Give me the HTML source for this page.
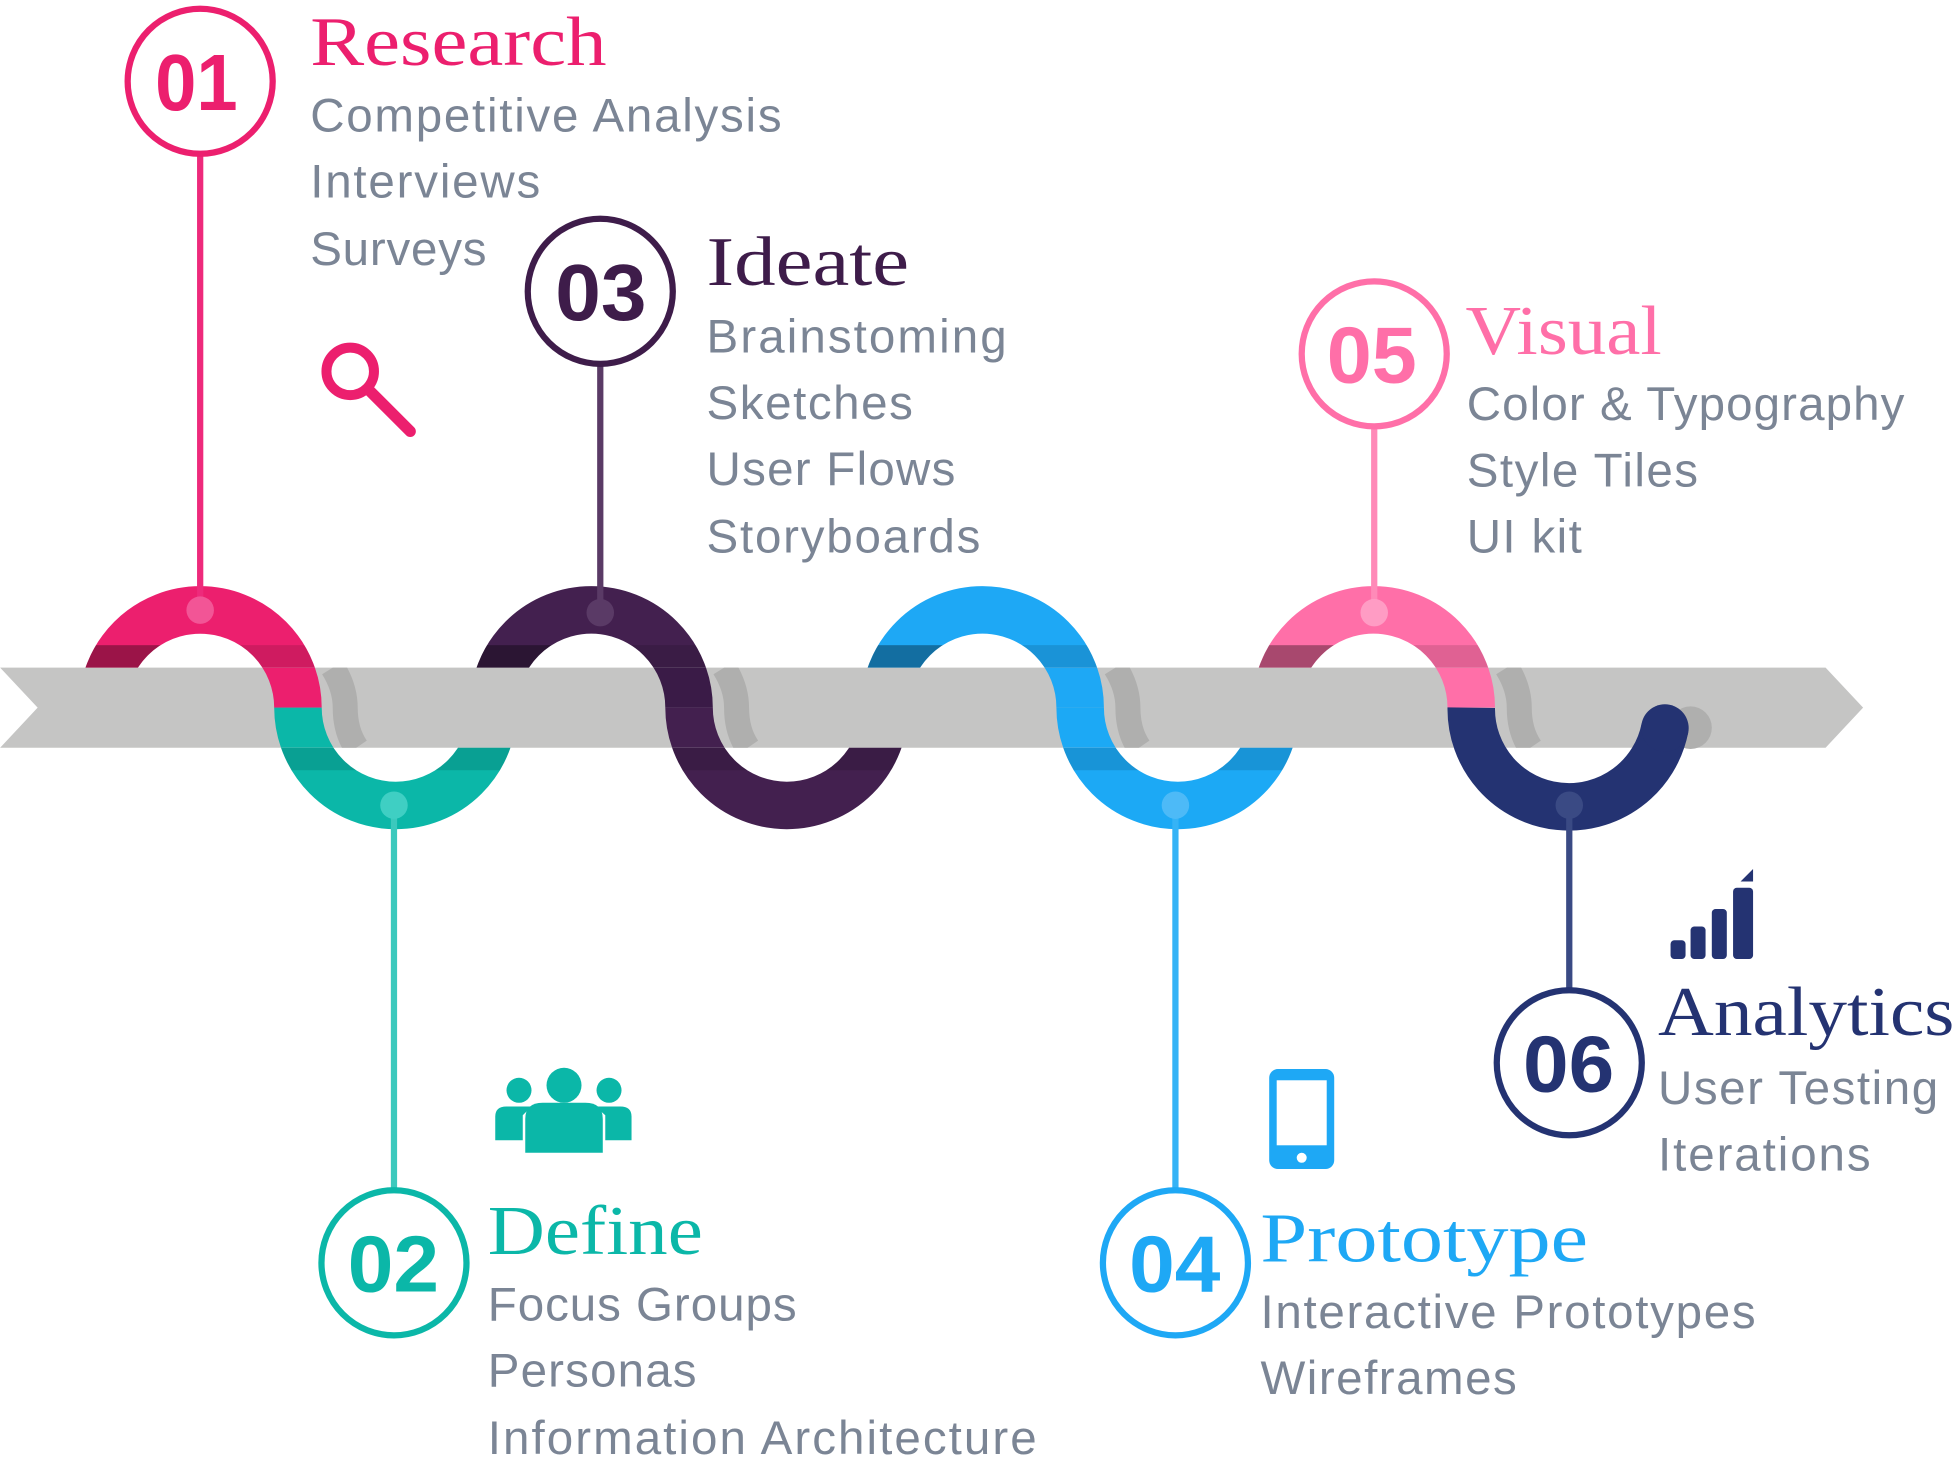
<!DOCTYPE html>
<html><head><meta charset="utf-8"><style>
html,body{margin:0;padding:0;background:#fff;}
svg{display:block}
.t{font-family:"Liberation Serif",serif;font-size:56px}
.i{font-family:"Liberation Sans",sans-serif;font-size:38px;fill:#7b8595}
.n{font-family:"Liberation Sans",sans-serif;font-weight:bold;font-size:64px}
</style></head><body>
<svg width="1957" height="1476" viewBox="0 0 1565 1180.5" xmlns="http://www.w3.org/2000/svg">
<defs>
<clipPath id="cross">
<rect x="200" y="534" width="72" height="64"/><rect x="513" y="534" width="72" height="64"/>
<rect x="826" y="534" width="72" height="64"/><rect x="1139" y="534" width="72" height="64"/>
</clipPath>
<clipPath id="band"><rect x="0" y="534" width="1500" height="64"/></clipPath>
<clipPath id="stripT"><rect x="0" y="516" width="1500" height="18"/></clipPath>
<clipPath id="stripTL">
<rect x="55" y="516" width="105" height="18"/><rect x="368" y="516" width="105" height="18"/>
<rect x="681" y="516" width="105" height="18"/><rect x="994" y="516" width="105" height="18"/>
</clipPath>
<clipPath id="stripB"><rect x="0" y="598" width="1500" height="18"/></clipPath>
</defs>
<g fill="none" stroke-width="38">
<path d="M81.8,566 A78.2,78.2 0 0 1 238.2,566" stroke="#ec1f6e"/>
<path d="M238.2,566 A78.2,78.2 0 0 0 394.6,566" stroke="#0bb7a8"/>
<path d="M394.6,566 A78.2,78.2 0 0 1 551,566" stroke="#43204f"/>
<path d="M551,566 A78.2,78.2 0 0 0 707.4,566" stroke="#43204f"/>
<path d="M707.4,566 A78.2,78.2 0 0 1 863.8,566" stroke="#1ea8f5"/>
<path d="M863.8,566 A78.2,78.2 0 0 0 1020.2,566" stroke="#1ca9f5"/>
<path d="M1020.2,566 A78.2,78.2 0 0 1 1176.6,566" stroke="#ff6fa8"/>
</g>
<g clip-path="url(#stripT)" fill="none" stroke-width="38" stroke="#000" opacity="0.12">
<path d="M81.8,566 A78.2,78.2 0 0 1 238.2,566 M394.6,566 A78.2,78.2 0 0 1 551,566 M707.4,566 A78.2,78.2 0 0 1 863.8,566 M1020.2,566 A78.2,78.2 0 0 1 1176.6,566"/>
</g>
<g clip-path="url(#stripTL)" fill="none" stroke-width="38" stroke="#000" opacity="0.25">
<path d="M81.8,566 A78.2,78.2 0 0 1 238.2,566 M394.6,566 A78.2,78.2 0 0 1 551,566 M707.4,566 A78.2,78.2 0 0 1 863.8,566 M1020.2,566 A78.2,78.2 0 0 1 1176.6,566"/>
</g>
<g clip-path="url(#stripB)" fill="none" stroke-width="38" stroke="#000" opacity="0.12">
<path d="M238.2,566 A78.2,78.2 0 0 0 394.6,566 M551,566 A78.2,78.2 0 0 0 707.4,566 M863.8,566 A78.2,78.2 0 0 0 1020.2,566"/>
</g>
<!-- band -->
<polygon points="0,534 1460,534 1490,566 1460,598 0,598 30,566" fill="#c5c5c4"/>
<!-- shadows -->
<g clip-path="url(#band)" fill="none" stroke-width="20" stroke="#afafae">
<path d="M266,534 Q276,550 276,566 Q276,585 285,598"/>
<path d="M579,534 Q589,550 589,566 Q589,585 598,598"/>
<path d="M892,534 Q902,550 902,566 Q902,585 911,598"/>
<path d="M1205,534 Q1215,550 1215,566 Q1215,585 1224,598"/>
</g>
<circle cx="1352" cy="582" r="17" fill="#afafae"/>
<!-- crossings over band -->
<g clip-path="url(#cross)" fill="none" stroke-width="38">
<path d="M81.8,566 A78.2,78.2 0 0 1 238.2,566" stroke="#ec1f6e"/>
<path d="M238.2,566 A78.2,78.2 0 0 0 394.6,566" stroke="#0bb7a8"/>
<path d="M394.6,566 A78.2,78.2 0 0 1 551,566" stroke="#3a1b47"/>
<path d="M551,566 A78.2,78.2 0 0 0 707.4,566" stroke="#43204f"/>
<path d="M707.4,566 A78.2,78.2 0 0 1 863.8,566" stroke="#1ea8f5"/>
<path d="M863.8,566 A78.2,78.2 0 0 0 1020.2,566" stroke="#1ca9f5"/>
<path d="M1020.2,566 A78.2,78.2 0 0 1 1176.6,566" stroke="#ff6fa8"/>
</g>
<path d="M1176.6,566 A78.2,78.2 0 0 0 1331.5,582.3" fill="none" stroke-width="38" stroke="#243372"/>
<circle cx="1331.5" cy="582.3" r="19" fill="#243372"/>
<!-- lines -->
<g stroke-width="5">
<line x1="160" y1="122" x2="160" y2="488" stroke="#ee2a7b"/>
<line x1="480" y1="291" x2="480" y2="490" stroke="#5a3a66"/>
<line x1="1099" y1="341" x2="1099" y2="490" stroke="#ff8ab8"/>
<line x1="315" y1="644" x2="315" y2="952" stroke="#3cc9bd"/>
<line x1="940" y1="644" x2="940" y2="952" stroke="#35b3f6"/>
<line x1="1255" y1="644" x2="1255" y2="792" stroke="#3a4a84"/>
</g>
<g>
<circle cx="160" cy="488" r="11" fill="#f25596"/>
<circle cx="480" cy="490" r="11" fill="#5a3a66"/>
<circle cx="1099" cy="490" r="11" fill="#ff9cc4"/>
<circle cx="315" cy="644" r="11" fill="#3fcfc3"/>
<circle cx="940" cy="644" r="11" fill="#4dbaf7"/>
<circle cx="1255" cy="644" r="11" fill="#3a4a84"/>
</g>
<!-- number circles -->
<g fill="#fff" stroke-width="5">
<circle cx="160" cy="65" r="58" stroke="#ec1f6e"/>
<circle cx="480" cy="233" r="58" stroke="#3e1c4a"/>
<circle cx="1099" cy="283" r="58" stroke="#ff6fa8"/>
<circle cx="315" cy="1010" r="58" stroke="#0bb7a8"/>
<circle cx="940" cy="1010" r="58" stroke="#1ea8f5"/>
<circle cx="1255" cy="850" r="58" stroke="#243372"/>
</g>
<text class="n" x="124" y="88" fill="#ec1f6e" textLength="66" lengthAdjust="spacingAndGlyphs">01</text>
<text class="n" x="444" y="256" fill="#3e1c4a" textLength="73" lengthAdjust="spacingAndGlyphs">03</text>
<text class="n" x="1061" y="306" fill="#ff6fa8" textLength="72" lengthAdjust="spacingAndGlyphs">05</text>
<text class="n" x="278" y="1033" fill="#0bb7a8" textLength="73" lengthAdjust="spacingAndGlyphs">02</text>
<text class="n" x="903" y="1033" fill="#1ea8f5" textLength="73" lengthAdjust="spacingAndGlyphs">04</text>
<text class="n" x="1218" y="873" fill="#243372" textLength="73" lengthAdjust="spacingAndGlyphs">06</text>
<!-- text -->
<g>
<text class="t" x="248" y="52" fill="#ec1f6e" textLength="237" lengthAdjust="spacingAndGlyphs">Research</text>
<text class="i" x="248" y="105" textLength="377">Competitive Analysis</text>
<text class="i" x="248" y="158" textLength="184">Interviews</text>
<text class="i" x="248" y="212" textLength="141">Surveys</text>
<text class="t" x="565" y="228" fill="#3e1c4a" textLength="162" lengthAdjust="spacingAndGlyphs">Ideate</text>
<text class="i" x="565" y="282" textLength="240">Brainstoming</text>
<text class="i" x="565" y="335" textLength="165">Sketches</text>
<text class="i" x="565" y="388" textLength="199">User Flows</text>
<text class="i" x="565" y="442" textLength="219">Storyboards</text>
<text class="t" x="1172" y="283" fill="#ff6fa8" textLength="157" lengthAdjust="spacingAndGlyphs">Visual</text>
<text class="i" x="1173" y="336" textLength="350">Color &amp; Typography</text>
<text class="i" x="1173" y="389" textLength="185">Style Tiles</text>
<text class="i" x="1173" y="442" textLength="92">UI kit</text>
<text class="t" x="390" y="1003" fill="#0bb7a8" textLength="172" lengthAdjust="spacingAndGlyphs">Define</text>
<text class="i" x="390" y="1056" textLength="247">Focus Groups</text>
<text class="i" x="390" y="1109" textLength="167">Personas</text>
<text class="i" x="390" y="1163" textLength="439">Information Architecture</text>
<text class="t" x="1008" y="1009" fill="#1ea8f5" textLength="262" lengthAdjust="spacingAndGlyphs">Prototype</text>
<text class="i" x="1008" y="1062" textLength="396">Interactive Prototypes</text>
<text class="i" x="1008" y="1115" textLength="205">Wireframes</text>
<text class="t" x="1326" y="828" fill="#243372" textLength="237" lengthAdjust="spacingAndGlyphs">Analytics</text>
<text class="i" x="1326" y="883" textLength="224">User Testing</text>
<text class="i" x="1326" y="936" textLength="170">Iterations</text>
</g>
<!-- icons -->
<circle cx="280" cy="297" r="19" fill="none" stroke="#ec1f6e" stroke-width="8"/>
<line x1="296" y1="313" x2="328" y2="345" stroke="#ec1f6e" stroke-width="9" stroke-linecap="round"/>
<g fill="#0bb7a8">
<circle cx="451" cy="868" r="14"/><path d="M420,922 L420,895 Q420,882 434,882 L468,882 Q482,882 482,895 L482,922 Z"/>
<circle cx="415" cy="872" r="10"/><path d="M396,912 L396,893 Q396,885 405,885 L425,885 L418,892 L418,912 Z"/>
<circle cx="487" cy="872" r="10"/><path d="M505,912 L505,893 Q505,885 496,885 L476,885 L484,892 L484,912 Z"/>
</g>
<rect x="1015" y="855" width="52" height="80" rx="7" fill="#1ea8f5"/>
<rect x="1021" y="864" width="40" height="52" fill="#fff"/>
<circle cx="1041" cy="926" r="4" fill="#fff"/>
<g fill="#243372">
<rect x="1336" y="752" width="12" height="15" rx="3"/><rect x="1352" y="741" width="12" height="26" rx="3"/>
<rect x="1369" y="727" width="12" height="40" rx="3"/><rect x="1386" y="710" width="16" height="57" rx="3"/>
<polygon points="1392,705 1402,695 1402,705"/>
</g>
</svg>
</body></html>
